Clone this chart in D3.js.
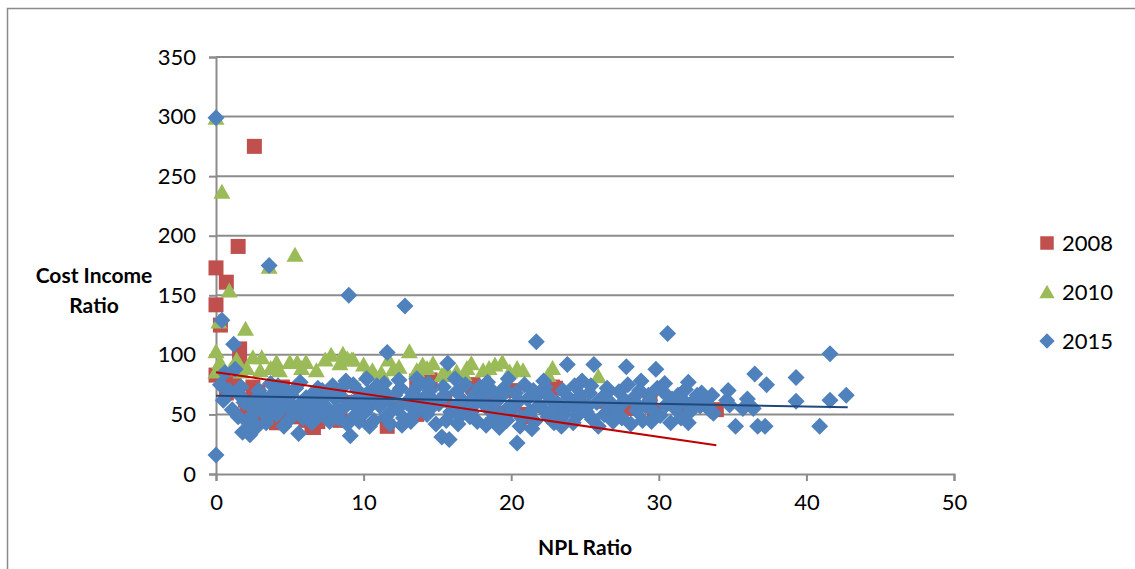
<!DOCTYPE html>
<meta charset="utf-8">
<script src="https://d3js.org/d3.v7.min.js"></script>
<style>
  body { margin: 0; background: #fff; }
  text { font-family: Lato, "Open Sans", sans-serif; fill: #000; }
</style>
<svg id="chart" width="1135" height="569"></svg>
<script>
    // axis ticks
    var xTicks = [0, 10, 20, 30, 40, 50];
    var yTicks = [0, 50, 100, 150, 200, 250, 300, 350];
    var seriesNames = ["2008", "2010", "2015"];

    // 2008 series [npl, cost income]
    var data2008 = [
        [2.6, 275], [1.5, 191], [0, 173], [0.7, 161], [0, 142], [0.3, 125], [1.6, 105],
        [1.6, 94], [0, 83], [0.95, 76], [0.7, 68], [1.2, 79], [2.5, 73], [2.0, 62],
        [2.1, 56], [2.85, 69], [3.0, 48], [4.3, 44], [4.1, 43], [4.9, 54], [4.8, 64],
        [4.5, 73], [5.2, 48], [5.7, 56], [6.1, 59], [6.1, 45], [6.5, 40], [6.6, 39],
        [6.9, 44], [7.4, 52], [8.4, 45], [9.1, 60], [9.8, 54], [10.5, 66], [11.6, 40],
        [12.2, 57], [13.6, 78], [13.6, 50], [14.5, 78], [14.5, 79], [15.5, 62], [16.6, 55],
        [17.4, 73], [17.4, 75], [18.6, 64], [19.2, 51], [20.2, 70], [21.0, 50], [21.0, 48],
        [22.8, 73], [23.0, 72], [24.6, 58], [26.3, 61], [28.0, 55], [29.4, 61], [29.7, 52],
        [31.5, 58], [33.9, 54]
    ];

    // 2010 series
    var data2010 = [
        [0, 299], [0.4, 237], [5.35, 184], [3.6, 174], [0.9, 154], [2.0, 122], [0.2, 128],
        [0, 103], [0.27, 94], [0, 86], [1.4, 96], [2.5, 98], [3.1, 98], [4.1, 94],
        [5.0, 94], [5.5, 94], [6.1, 94], [7.4, 96], [7.8, 100], [8.6, 101], [9.2, 96],
        [3.7, 89], [4.3, 87], [6.8, 87], [3.0, 87], [2.1, 89], [8.4, 93], [8.9, 97],
        [9.3, 96], [10.0, 92], [10.6, 87], [11.7, 96], [13.1, 103], [13.6, 87], [14.3, 89],
        [14.7, 93], [15.6, 87], [16.3, 86], [17.3, 93], [18.1, 87], [18.9, 92], [14.0, 92],
        [15.3, 83], [17.0, 89], [18.5, 89], [19.4, 94], [20.4, 89], [22.8, 89], [25.9, 82],
        [11.2, 85], [12.4, 90], [16.8, 84], [19.9, 86], [20.8, 87], [22.5, 83], [5.8, 89],
        [1.0, 88], [1.7, 86], [12.0, 88], [10.2, 84]
    ];

    // 2015 series
    var data2015 = [
        [0, 299], [0, 16], [0.4, 129], [0.3, 75], [0.6, 85], [0.9, 70], [0.5, 62],
        [1.2, 109], [1.1, 54], [1.5, 48], [1.7, 73], [1.3, 88], [1.8, 35], [1.9, 60], [1.6, 66],
        [2.1, 44], [2.3, 33], [2.4, 56], [2.6, 62], [2.8, 40], [2.5, 50], [2.9, 70], [2.2, 37],
        [3.6, 175], [3.1, 55], [3.3, 63], [3.5, 48], [3.8, 58], [3.9, 68], [3.4, 43], [3.7, 76],
        [4.1, 50], [4.3, 62], [4.5, 55], [4.7, 70], [4.9, 45], [4.2, 74], [4.6, 40], [4.8, 58],
        [5.1, 66], [5.3, 52], [5.6, 34], [5.8, 60], [5.4, 72], [5.9, 47], [5.2, 57], [5.7, 77],
        [6.1, 64], [6.3, 50], [6.5, 43], [6.7, 58], [6.9, 72], [6.2, 55], [6.6, 68], [6.8, 47],
        [7.1, 61], [7.3, 53], [7.5, 66], [7.7, 44], [7.9, 74], [7.4, 57], [7.8, 50], [7.2, 70],
        [8.1, 63], [8.3, 47], [8.5, 72], [8.7, 56], [8.9, 42], [8.4, 66], [8.8, 78], [8.2, 54],
        [9.0, 150], [9.1, 32], [9.2, 60], [9.4, 49], [9.6, 70], [9.8, 56], [9.3, 75], [9.7, 44], [9.9, 64],
        [10.1, 52], [10.3, 68], [10.5, 58], [10.7, 45], [10.9, 74], [10.4, 40], [10.8, 62], [10.2, 80],
        [11.1, 57], [11.3, 70], [11.6, 102], [11.5, 48], [11.7, 63], [11.9, 53], [11.4, 76], [11.8, 42],
        [12.1, 66], [12.3, 55], [12.5, 72], [12.8, 141], [12.7, 47], [12.9, 60], [12.4, 79], [12.6, 41],
        [13.1, 58], [13.3, 68], [13.5, 51], [13.7, 74], [13.9, 62], [13.2, 44], [13.6, 80], [13.8, 55],
        [14.1, 64], [14.3, 50], [14.5, 70], [14.7, 57], [14.9, 42], [14.4, 76], [14.8, 61], [14.2, 54],
        [15.1, 59], [15.3, 31], [15.5, 66], [15.7, 93], [15.8, 29], [15.9, 52], [15.4, 73], [15.6, 45], [15.2, 62],
        [16.1, 56], [16.3, 69], [16.5, 48], [16.7, 62], [16.9, 75], [16.4, 42], [16.8, 55], [16.2, 80],
        [17.1, 60], [17.3, 52], [17.5, 67], [17.7, 44], [17.9, 73], [17.4, 57], [17.8, 63], [17.2, 48],
        [18.1, 65], [18.3, 41], [18.5, 54], [18.7, 70], [18.9, 60], [18.4, 77], [18.8, 47], [18.2, 58],
        [19.1, 62], [19.3, 50], [19.5, 72], [19.7, 45], [19.9, 57], [19.4, 66], [19.8, 80], [19.2, 39],
        [20.1, 54], [20.4, 26], [20.3, 68], [20.5, 61], [20.7, 47], [20.9, 75], [20.6, 40], [20.2, 58],
        [21.1, 63], [21.3, 52], [21.5, 70], [21.7, 111], [21.6, 44], [21.9, 58], [21.4, 38], [21.8, 66],
        [22.1, 55], [22.3, 73], [22.5, 48], [22.7, 62], [22.9, 43], [22.4, 67], [22.8, 53], [22.2, 78],
        [23.1, 60], [23.3, 46], [23.5, 70], [23.8, 92], [23.7, 55], [23.9, 64], [23.4, 40], [23.6, 50],
        [24.1, 58], [24.3, 74], [24.5, 49], [24.7, 66], [24.9, 55], [24.2, 43], [24.8, 78], [24.4, 62],
        [25.1, 52], [25.3, 68], [25.6, 92], [25.5, 46], [25.8, 60], [25.4, 74], [25.9, 40], [25.2, 57],
        [26.1, 63], [26.3, 50], [26.5, 72], [26.7, 56], [26.9, 44], [26.4, 67], [26.8, 59],
        [27.1, 54], [27.3, 69], [27.5, 47], [27.8, 90], [27.7, 62], [27.9, 75], [27.4, 58],
        [28.1, 42], [28.3, 64], [28.5, 53], [28.7, 70], [28.9, 45], [28.4, 60], [28.8, 78],
        [29.1, 57], [29.3, 66], [29.5, 44], [29.8, 88], [29.7, 52], [29.9, 72], [29.4, 62],
        [30.1, 49], [30.3, 69], [30.6, 118], [30.5, 58], [30.8, 43], [30.4, 76], [30.9, 63],
        [31.1, 55], [31.3, 66], [31.5, 47], [31.8, 71], [31.9, 59], [31.4, 62],
        [32.0, 77], [32.6, 66], [32.4, 62], [32.0, 43], [32.1, 52], [32.8, 57], [32.9, 68],
        [33.2, 60], [33.5, 53], [33.7, 51], [33.6, 66],
        [34.6, 62], [34.7, 70], [34.8, 58], [35.2, 40], [35.7, 55], [36.0, 63], [36.4, 55],
        [36.5, 84], [36.7, 40], [37.2, 40], [37.3, 75], [39.3, 81], [39.3, 61], [40.9, 40],
        [41.6, 101], [41.6, 62], [42.7, 66]
    ];

    // linear trendlines (start, end)
    var trend2008 = [[0, 85.4], [33.9, 24.1]];
    var trend2015 = [[0, 65.7], [42.8, 56.0]];

    var svg = d3.select("#chart");
    var colors = { "2008": "#C0504D", "2010": "#9BBB59", "2015": "#4F81BD" };
    var gridColor = "#8c8c8c";

    // outer frame
    svg.append("rect")
        .attr("x", 7.5).attr("y", 8.5)
        .attr("width", 1140).attr("height", 600)
        .attr("fill", "none").attr("stroke", "#8a8a8a").attr("stroke-width", 1.5);

    var x = d3.scaleLinear().domain([0, 50]).range([216, 954]);
    var y = d3.scaleLinear().domain([0, 350]).range([474, 57]);

    // gridlines
    svg.append("g")
        .selectAll("line")
        .data(yTicks.filter(d => d > 0))
        .enter().append("line")
        .attr("x1", x(0)).attr("x2", x(50))
        .attr("y1", d => y(d)).attr("y2", d => y(d))
        .attr("stroke", gridColor).attr("stroke-width", 2);

    // y axis
    var yAxis = svg.append("g")
        .attr("transform", "translate(" + x(0) + ",0)")
        .call(d3.axisLeft(y).tickValues(yTicks).tickSize(7).tickPadding(13));
    yAxis.select(".domain").attr("stroke", gridColor).attr("stroke-width", 2);
    yAxis.selectAll(".tick line").attr("stroke", gridColor).attr("stroke-width", 2);
    yAxis.selectAll(".tick text").style("font-size", "22px");

    // x axis
    var xAxis = svg.append("g")
        .attr("transform", "translate(0," + y(0) + ")")
        .call(d3.axisBottom(x).tickValues(xTicks).tickSize(7).tickPadding(13));
    xAxis.select(".domain").attr("stroke", gridColor).attr("stroke-width", 2);
    xAxis.selectAll(".tick line").attr("stroke", gridColor).attr("stroke-width", 2);
    xAxis.selectAll(".tick text").style("font-size", "22px");

    // marker shapes
    var squarePath = "M-7.5,-7.5H7.5V7.5H-7.5Z";
    var trianglePath = "M0,-8L8.5,7H-8.5Z";
    var diamondPath = "M0,-8.5L8.5,0L0,8.5L-8.5,0Z";

    function drawSeries(data, path, color) {
        svg.append("g")
            .selectAll("path")
            .data(data)
            .enter().append("path")
            .attr("d", path)
            .attr("transform", d => "translate(" + x(d[0]) + "," + y(d[1]) + ")")
            .attr("fill", color);
    }
    drawSeries(data2008, squarePath, colors["2008"]);
    drawSeries(data2010, trianglePath, colors["2010"]);
    drawSeries(data2015, diamondPath, colors["2015"]);

    // trendlines
    var line = d3.line().x(d => x(d[0])).y(d => y(d[1]));
    svg.append("path").datum(trend2008).attr("d", line)
        .attr("fill", "none").attr("stroke", "#C00000").attr("stroke-width", 2);
    svg.append("path").datum(trend2015).attr("d", line)
        .attr("fill", "none").attr("stroke", "#1F497D").attr("stroke-width", 2);

    // axis titles
    var yTitle = svg.append("text")
        .attr("text-anchor", "middle")
        .style("font-size", "21px").style("font-weight", "bold");
    yTitle.append("tspan").attr("x", 94).attr("y", 283).text("Cost Income");
    yTitle.append("tspan").attr("x", 94).attr("y", 313).text("Ratio");

    svg.append("text")
        .attr("x", 585).attr("y", 555)
        .attr("text-anchor", "middle")
        .style("font-size", "21px").style("font-weight", "bold")
        .text("NPL Ratio");

    // legend
    var legendPaths = [squarePath, trianglePath, diamondPath];
    var legend = svg.append("g")
        .selectAll("g")
        .data(seriesNames)
        .enter().append("g")
        .attr("transform", (d, i) => "translate(1047," + (243 + i * 49) + ")");
    legend.append("path")
        .attr("d", (d, i) => legendPaths[i])
        .attr("transform", "scale(0.9)")
        .attr("fill", d => colors[d]);
    legend.append("text")
        .attr("x", 15).attr("y", 8)
        .style("font-size", "22px")
        .text(d => d);
</script>
